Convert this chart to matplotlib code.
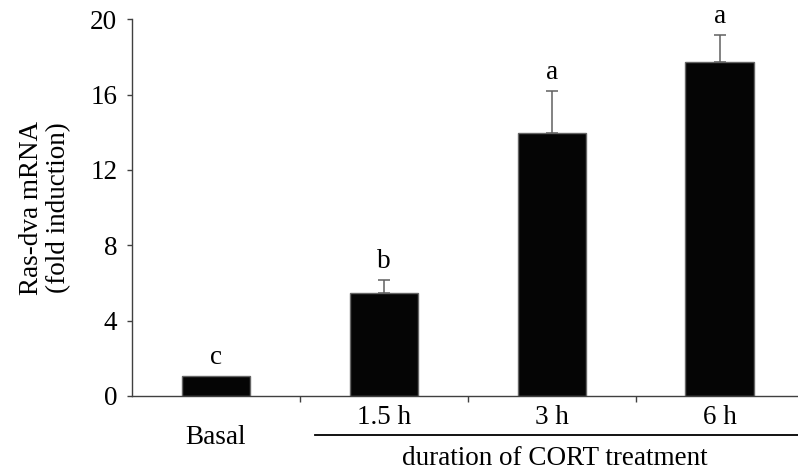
import matplotlib
matplotlib.use('Agg')
import matplotlib.pyplot as plt

categories = ['Basal', '1.5 h', '3 h', '6 h']
means = [1.05, 5.45, 13.95, 17.74]
errors = [0.0, 0.71, 2.23, 1.45]
letters = ['c', 'b', 'a', 'a']
group_label = 'duration of CORT treatment'
y_ticks = [0, 4, 8, 12, 16, 20]

FS = 19.5
plt.rcParams['font.family'] = ['Liberation Serif', 'DejaVu Serif']
plt.rcParams['font.size'] = FS

fig = plt.figure(figsize=(7.98, 4.73), dpi=100)
ax = fig.add_axes([0.1654, 0.1628, 0.842, 0.7964])

x = list(range(len(categories)))
ax.bar(x, means, width=0.41, color='#050505', edgecolor='#666666', linewidth=1.0)
ax.errorbar(x[1:], means[1:], yerr=[[0] * 3, errors[1:]], fmt='none',
            ecolor='#606060', elinewidth=1.1, capsize=4.5, capthick=1.1)

for xi, m, e, lt in zip(x, means, errors, letters):
    ax.annotate(lt, (xi, m + e), xytext=(0, 8.5), textcoords='offset points',
                ha='center', va='baseline', fontsize=FS)

ax.set_xlim(-0.5, 3.5)
ax.set_ylim(0, 20)
ax.set_yticks(y_ticks)
ax.tick_params(axis='y', direction='out', length=3.6, width=1, color='#404040', pad=7)

# category labels (Basal sits lower than the treatment times)
ax.set_xticks([0.5, 1.5, 2.5])
ax.set_xticklabels([])
ax.tick_params(axis='x', direction='out', length=4, width=1, color='#404040')
xt = ax.get_xaxis_transform()
for xi, lab in zip(x, categories):
    yy = -0.109 if lab == 'Basal' else -0.056
    ax.text(xi, yy, lab, transform=xt, ha='center', va='center', fontsize=FS)

ax.plot([0.59, 3.5], [-0.1035, -0.1035], transform=xt, color='black',
        lw=1.3, clip_on=False)
ax.text(2.02, -0.165, group_label, transform=xt, ha='center', va='center', fontsize=FS)

ax.set_ylabel('Ras-dva mRNA\n(fold induction)', fontsize=FS, labelpad=14, linespacing=1.1)

for s in ['top', 'right']:
    ax.spines[s].set_visible(False)
for s in ['left', 'bottom']:
    ax.spines[s].set_color('#404040')
    ax.spines[s].set_linewidth(1.0)

fig.savefig('out.png', dpi=100)
